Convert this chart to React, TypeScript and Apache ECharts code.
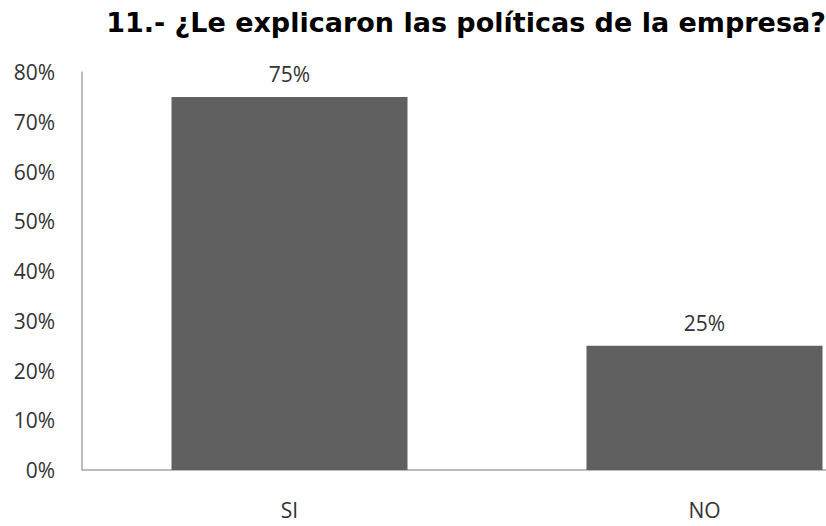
import React, { useEffect, useRef } from "react";
import * as echarts from "echarts";

const titleText = "11.- ¿Le explicaron las políticas de la empresa?";
const categories = ["SI", "NO"];
const values = [75, 25];
const yTicks = { min: 0, max: 80, interval: 10 };

export default function App() {
  const ref = useRef<HTMLDivElement>(null);
  useEffect(() => {
    if (!ref.current) return;
    const chart = echarts.init(ref.current, null, { renderer: "svg" });
    chart.setOption({
      animation: false,
      backgroundColor: "#ffffff",
      title: {
        text: titleText,
        left: 461,
        textAlign: "center",
        top: 4,
        textStyle: {
          fontFamily: "DejaVu Sans, sans-serif",
          fontWeight: "bold",
          fontSize: 27,
          color: "#000000",
        },
      },
      grid: { left: 82, top: 72, width: 830, height: 398, containLabel: false },
      xAxis: {
        type: "category",
        data: categories,
        axisLine: { lineStyle: { color: "#a6a6a6", width: 1.5 } },
        axisTick: { show: false },
        axisLabel: {
          margin: 29,
          fontFamily: "Open Sans, sans-serif",
          fontSize: 21,
          color: "#333333",
        },
      },
      yAxis: {
        type: "value",
        min: yTicks.min,
        max: yTicks.max,
        interval: yTicks.interval,
        axisLine: { show: true, lineStyle: { color: "#a6a6a6", width: 1.5 } },
        axisTick: { show: false },
        splitLine: { show: false },
        axisLabel: {
          margin: 27,
          formatter: (v: number) => v + "%",
          fontFamily: "Open Sans, sans-serif",
          fontSize: 21,
          color: "#333333",
        },
      },
      series: [
        {
          type: "bar",
          data: values,
          barWidth: 236,
          itemStyle: { color: "#606060" },
          label: {
            show: true,
            position: "top",
            distance: 12,
            formatter: (p: any) => p.value + "%",
            fontFamily: "Open Sans, sans-serif",
            fontSize: 21,
            color: "#333333",
          },
        },
      ],
    });
    return () => chart.dispose();
  }, []);
  return (
    <div style={{ width: 826, height: 526, position: "absolute", left: 0, top: 0, overflow: "hidden", background: "#ffffff" }}>
      <div ref={ref} style={{ width: 1000, height: 526, position: "absolute", left: 0, top: 0 }} />
    </div>
  );
}
